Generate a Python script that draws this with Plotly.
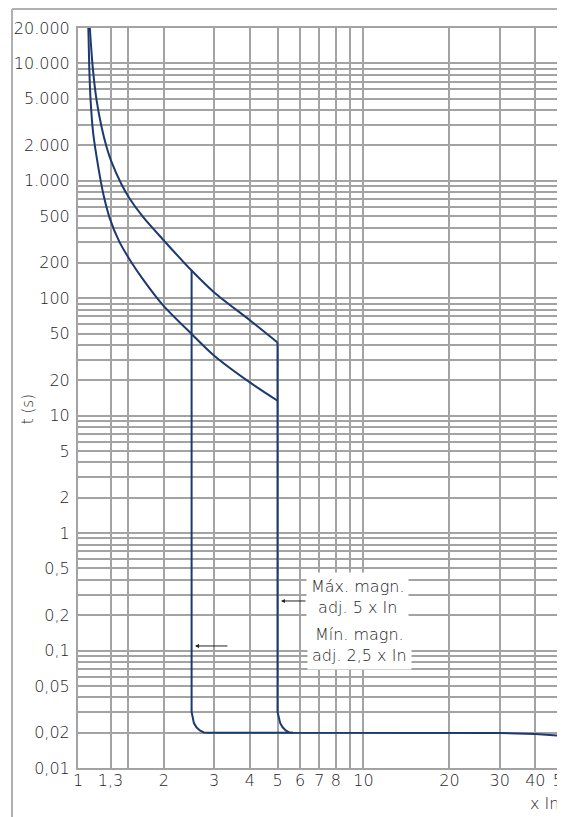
import math
import plotly.graph_objects as go

# ---- data ----
upper_x = [1.10, 1.126, 1.162, 1.21, 1.26, 1.304, 1.421, 1.52, 1.692, 1.987, 2.5, 3.0, 4.0, 5.0]
upper_t = [20000, 9300, 4840, 2860, 1930, 1490, 930, 700, 490, 315, 172, 112, 65, 42]

lower_x = [1.087, 1.095, 1.107, 1.131, 1.178, 1.226, 1.294, 1.394, 1.52, 1.692, 1.987, 2.5, 3.0, 4.0, 5.0]
lower_t = [20000, 9300, 4840, 2510, 1306, 775, 474, 305, 212, 144, 87, 49.6, 32.4, 19.2, 13.4]

mag_max_x = [5.0, 5.0, 5.11, 5.21, 5.34, 5.49, 5.66, 10, 20, 30, 40, 50]
mag_max_t = [42, 0.030, 0.0241, 0.0222, 0.0209, 0.0201, 0.0200, 0.0200, 0.0200, 0.0199, 0.0195, 0.0188]

mag_min_x = [2.5, 2.5, 2.547, 2.60, 2.672, 2.758, 2.853, 5.66]
mag_min_t = [172, 0.030, 0.0241, 0.0222, 0.0209, 0.0201, 0.0200, 0.0200]

x_tickvals = [1, 1.3, 1.5, 2, 3, 4, 5, 6, 7, 8, 9, 10, 20, 30, 40, 50]
x_ticktext = ["1", "1,3", "", "2", "3", "4", "5", "6", "7", "8", "", "10", "20", "30", "40", "50"]

y_labels = {0.01: "0,01", 0.02: "0,02", 0.05: "0,05", 0.1: "0,1", 0.2: "0,2", 0.5: "0,5",
            1: "1", 2: "2", 5: "5", 10: "10", 20: "20", 50: "50", 100: "100", 200: "200",
            500: "500", 1000: "1.000", 2000: "2.000", 5000: "5.000", 10000: "10.000",
            20000: "20.000"}

# grid positions: every 1..9 x 10^k within the range
y_tickvals = []
y_ticktext = []
for k in range(-2, 5):
    for m in range(1, 10):
        v = round(m * 10 ** k, 6)
        if v > 20000:
            continue
        y_tickvals.append(v)
        y_ticktext.append(y_labels.get(v, ""))

LINE = "#1c3a70"
GRID = "#a3a3a3"
TXT = "#1e1e1e"
FONT = "DejaVu Sans"
W = 300

fig = go.Figure()
for xs, ts in [(upper_x, upper_t), (lower_x, lower_t)]:
    fig.add_trace(go.Scatter(x=xs, y=ts, mode="lines",
                             line=dict(color=LINE, width=2, shape="spline", smoothing=0.8),
                             hoverinfo="skip", showlegend=False))
for xs, ts in [(mag_max_x, mag_max_t), (mag_min_x, mag_min_t)]:
    fig.add_trace(go.Scatter(x=xs, y=ts, mode="lines", line=dict(color=LINE, width=2),
                             hoverinfo="skip", showlegend=False))

tf = dict(family=FONT, size=16, color=TXT, weight=W)
fig.update_xaxes(type="log", range=[0, math.log10(50)], tickvals=x_tickvals, ticktext=x_ticktext,
                 showgrid=True, gridcolor=GRID, gridwidth=2, showline=True, linecolor=GRID, linewidth=2,
                 mirror=True, ticks="", tickfont=tf, ticklabelstandoff=-3, ticklabeloverflow="allow",
                 automargin=False)
fig.update_yaxes(type="log", range=[-2, math.log10(20000)], tickvals=y_tickvals, ticktext=y_ticktext,
                 showgrid=True, gridcolor=GRID, gridwidth=2, showline=True, linecolor=GRID, linewidth=2,
                 mirror=True, ticks="", tickfont=tf, ticklabelstandoff=3, ticklabeloverflow="allow",
                 automargin=False)

af = dict(family=FONT, size=16, color=TXT, weight=W)
annots = [
    dict(text="t (s)", x=-0.103, y=0.485, xref="paper", yref="paper", showarrow=False, textangle=-90,
         xanchor="center", yanchor="middle", font=dict(family=FONT, size=15, color=TXT, weight=W)),
    dict(text="x In", x=0.996, y=-0.0486, xref="paper", yref="paper", xanchor="right", yanchor="middle",
         showarrow=False, font=af),
    dict(text="Máx. magn.<br>adj. 5 x In", x=0.577, y=0.2311, xref="paper", yref="paper", showarrow=False,
         xanchor="center", yanchor="middle", bgcolor="white", borderpad=4, font=af),
    dict(text="Mín. magn.<br>adj. 2,5 x In", x=0.581, y=0.1662, xref="paper", yref="paper", showarrow=False,
         xanchor="center", yanchor="middle", bgcolor="white", borderpad=4, font=af),
    dict(text="", x=0.4186, y=0.2257, xref="paper", yref="paper", showarrow=True, ax=26, ay=0,
         arrowhead=2, arrowsize=0.8, arrowwidth=1, arrowcolor="#222"),
    dict(text="", x=0.2412, y=0.1649, xref="paper", yref="paper", showarrow=True, ax=34, ay=0,
         arrowhead=2, arrowsize=0.8, arrowwidth=1, arrowcolor="#222"),
]

# page has an 8px body margin: the figure is sized to fit inside the window
FX = (4 - 70) / 485
FY = 1 + 19 / 740
shapes = [
    dict(type="line", xref="paper", yref="paper", x0=FX, x1=1.02, y0=FY, y1=FY,
         line=dict(color="#b0b0b0", width=2)),
    dict(type="line", xref="paper", yref="paper", x0=FX, x1=FX, y0=FY, y1=-0.1,
         line=dict(color="#b0b0b0", width=2)),
]

fig.update_layout(width=557, height=809, margin=dict(l=70, r=2, t=20, b=49, autoexpand=False),
                  paper_bgcolor="white", plot_bgcolor="white", annotations=annots, shapes=shapes,
                  font=dict(family=FONT, color=TXT))

fig.write_html("out.html")
